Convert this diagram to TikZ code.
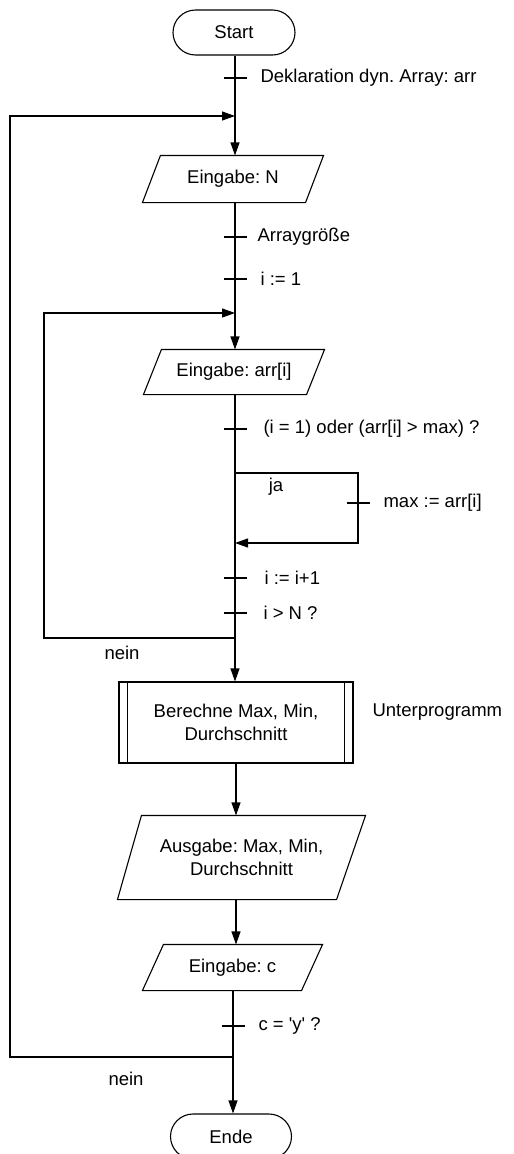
\documentclass[tikz,border=0pt]{standalone}
\usepackage{fontspec}
\setmainfont{Liberation Sans}
\usetikzlibrary{arrows.meta}
\frenchspacing
\begin{document}
\begin{tikzpicture}[x=1pt,y=-1pt,
  font=\fontsize{18.5}{23}\selectfont,
  line width=1.1pt,
  arr/.style={-{Triangle[length=13pt,width=9pt]}},
  term/.style={draw,rounded corners=22.5pt,minimum width=122pt,minimum height=45pt,inner sep=0pt},
  iobox/.style={inner sep=0pt,align=center},
  subbox/.style={draw,inner sep=0pt,align=center},
  lbl/.style={inner sep=0pt,anchor=west},
  plain/.style={inner sep=0pt}]
\useasboundingbox (0,0) rectangle (514,1154);

% nodes
\node[term] (start) at (234,32.5) {Start};
\node[iobox,minimum width=180pt,minimum height=46pt] (in1) at (233,179) {Eingabe: N};
\node[iobox,minimum width=180pt,minimum height=44pt] (in2) at (234,372) {Eingabe: arr[i]};
\node[subbox,minimum width=234pt,minimum height=81pt] (sub) at (236,722.5) {Berechne Max, Min,\\Durchschnitt};
\node[iobox,minimum width=247pt,minimum height=83pt] (out) at (241.5,857.5) {Ausgabe: Max, Min,\\Durchschnitt};
\node[iobox,minimum width=179pt,minimum height=45pt] (in3) at (232.5,967.5) {Eingabe: c};
\node[term,minimum width=121pt] (ende) at (231,1136.5) {Ende};

% parallelogram outlines
\draw ([xshift=18pt]in1.north west) -- (in1.north east) -- ([xshift=-18pt]in1.south east) -- (in1.south west) -- cycle;
\draw ([xshift=18pt]in2.north west) -- (in2.north east) -- ([xshift=-18pt]in2.south east) -- (in2.south west) -- cycle;
\draw ([xshift=24pt]out.north west) -- (out.north east) -- ([xshift=-29pt]out.south east) -- (out.south west) -- cycle;
\draw ([xshift=21pt]in3.north west) -- (in3.north east) -- ([xshift=-21pt]in3.south east) -- (in3.south west) -- cycle;
% subprocess inner lines
\draw ([xshift=9pt]sub.north west) -- ([xshift=9pt]sub.south west);
\draw ([xshift=-9pt]sub.north east) -- ([xshift=-9pt]sub.south east);

% coordinates on the flow
\coordinate (t1) at (235,78);
\coordinate (j1) at (235,116);
\coordinate (t2) at (235,237);
\coordinate (t3) at (235,279);
\coordinate (j2) at (235,313);
\coordinate (t4) at (235,429);
\coordinate (bs) at (235,473);
\coordinate (bc1) at (358,473);
\coordinate (bc2) at (358,543);
\coordinate (be) at (235,543);
\coordinate (t5) at (358,503);
\coordinate (t6) at (235,578);
\coordinate (t7) at (235,613);
\coordinate (b1) at (235,638);
\coordinate (c1) at (44,638);
\coordinate (t8) at (233,1026);
\coordinate (b2) at (233,1057);
\coordinate (c2) at (10,1057);

% main connectors
\draw[arr] (start.south -| j1) -- (in1.north -| j1);
\draw[arr] (in1.south -| j2) -- (in2.north -| j2);
\draw[arr] (in2.south -| j2) -- (sub.north -| j2);
\draw[arr] (sub.south -| out.north) ++(-5.5pt,0) coordinate (s1) -- (s1 |- out.north);
\draw[arr] (out.south -| s1) -- (in3.north -| s1);
\draw[arr] (in3.south -| b2) -- (ende.north -| b2);

% branch
\draw[arr] (bs) -- (bc1) -- (bc2) -- (be);
% loops
\draw[arr] (b1) -- (c1) |- (j2);
\draw[arr] (b2) -- (c2) |- (j1);

% ticks
\foreach \t in {t1,t2,t3,t4,t5,t6,t7,t8}
  \draw ([xshift=-11.5pt]\t) -- ([xshift=11.5pt]\t);

% labels
\node[lbl] (l1) at (260,78) {Deklaration dyn. Array: arr};
\node[lbl] (l2) at (257,237) {Arraygröße};
\node[lbl] (l3) at (260,279) {i := 1};
\node[lbl] (l4) at (263,429) {(i = 1) oder (arr[i] > max) ?};
\node[plain] (lja) at (276,487) {ja};
\node[lbl] (l5) at (383,503) {max := arr[i]};
\node[lbl] (l6) at (264,578) {i := i+1};
\node[lbl] (l7) at (263,613) {i > N ?};
\node[plain] (ln1) at (122,653) {nein};
\node[lbl] (l8) at (372,712) {Unterprogramm};
\node[lbl] (l9) at (258,1026) {c = \textquotesingle y\textquotesingle{} ?};
\node[plain] (ln2) at (126,1079) {nein};
\end{tikzpicture}
\end{document}
